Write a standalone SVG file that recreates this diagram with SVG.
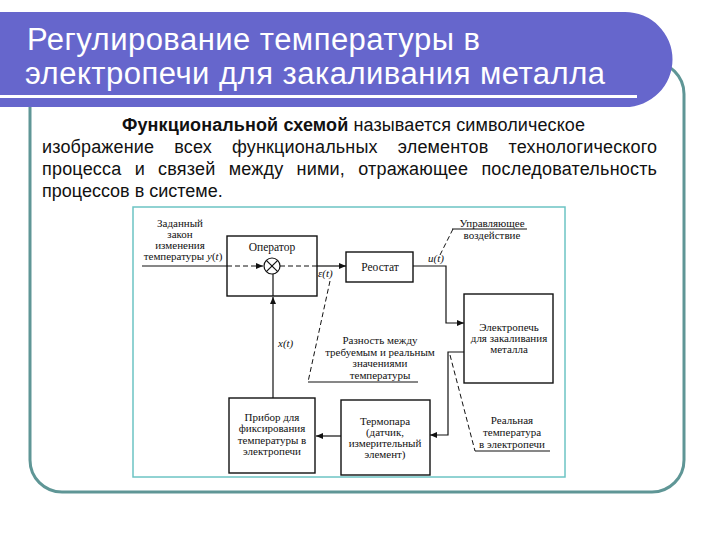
<svg xmlns="http://www.w3.org/2000/svg" width="720" height="540" viewBox="0 0 720 540">
<style>
.title{font-family:"Liberation Sans",Arial,sans-serif;font-size:31px;fill:#fff}
.para{font-family:"Liberation Sans",Arial,sans-serif;font-size:18px;fill:#111}
.d{font-family:"Liberation Serif","Times New Roman",serif;font-size:11px;fill:#111;text-anchor:middle}
.dl{font-family:"Liberation Serif","Times New Roman",serif;font-size:11px;fill:#111}
.big{font-size:11.5px}
.it{font-style:italic}
.box{fill:none;stroke:#111;stroke-width:1.4}
.ln{fill:none;stroke:#111;stroke-width:1.2}
.dash{fill:none;stroke:#111;stroke-width:1;stroke-dasharray:5,3}
</style>
<defs>
<marker id="ah" markerUnits="userSpaceOnUse" markerWidth="8" markerHeight="6" refX="7" refY="3" orient="auto">
<path d="M0,0 L7,3 L0,6 z" fill="#111"/>
</marker>
</defs>
<rect width="720" height="540" fill="#fff"/>
<rect x="30" y="62" width="654" height="430" rx="32" fill="none" stroke="#5f9696" stroke-width="3"/>
<path d="M-10,12 H625 A47.5,47.5 0 0 1 625,107 H-10 Z" fill="#6666cc"/>
<line x1="0" y1="96.5" x2="637" y2="96.5" stroke="#fff" stroke-width="3"/>
<text class="title" x="27" y="50" textLength="453">Регулирование температуры в</text>
<text class="title" x="25" y="84" textLength="580">электропечи для закаливания металла</text>

<g id="paragraph">
<text class="para" x="122" y="131" textLength="463" lengthAdjust="spacing"><tspan font-weight="bold">Функциональной схемой</tspan> называется символическое</text>
<text class="para" x="42" y="153" textLength="615" lengthAdjust="spacing" word-spacing="15">изображение всех функциональных элементов технологического</text>
<text class="para" x="42" y="175" textLength="615" lengthAdjust="spacing" word-spacing="8">процесса и связей между ними, отражающее последовательность</text>
<text class="para" x="42" y="197">процессов в системе.</text>
</g>

<rect x="133" y="207" width="432" height="270" fill="none" stroke="#6cc4c4" stroke-width="1.5"/>

<g id="connectors">
<line class="ln" x1="142" y1="266" x2="227" y2="266"/>
<line class="dash" x1="227" y1="266" x2="263" y2="266" marker-end="url(#ah)"/>
<line class="dash" x1="280" y1="266" x2="317" y2="266"/>
<line class="ln" x1="317" y1="266" x2="346" y2="266" marker-end="url(#ah)"/>
<polyline class="ln" points="413,266 446,266 446,323 464,323" marker-end="url(#ah)"/>
<polyline class="ln" points="464,352 448,352 448,435 430,435" marker-end="url(#ah)"/>
<line class="ln" x1="341" y1="436" x2="316" y2="436" marker-end="url(#ah)"/>
<line class="ln" x1="273" y1="398" x2="273" y2="297" marker-end="url(#ah)"/>
<line class="ln" x1="273" y1="296" x2="273" y2="274"/>
<line class="dash" x1="330" y1="281" x2="308" y2="382"/>
<line class="ln" x1="308" y1="382" x2="418" y2="382"/>
<line class="dash" x1="440" y1="255" x2="453" y2="229"/>
<line class="ln" x1="452" y1="229" x2="527" y2="229"/>
<line class="dash" x1="450" y1="355" x2="475" y2="451"/>
<line class="ln" x1="475" y1="451" x2="550" y2="451"/>
</g>

<g id="input-label">
<text class="d" x="180" y="227">Заданный</text>
<text class="d" x="180" y="238">закон</text>
<text class="d" x="180" y="249">изменения</text>
<text class="d" x="183" y="260">температуры <tspan class="it">y</tspan>(<tspan class="it">t</tspan>)</text>
</g>

<g id="operator">
<rect class="box" x="227" y="236" width="90" height="60"/>
<text class="d big" x="272" y="251">Оператор</text>
<circle cx="272" cy="266" r="8" fill="#fff" stroke="#111" stroke-width="1.2"/>
<line class="ln" x1="266.3" y1="260.3" x2="277.7" y2="271.7"/>
<line class="ln" x1="266.3" y1="271.7" x2="277.7" y2="260.3"/>
</g>

<g id="rheostat">
<rect class="box" x="346" y="252" width="67" height="30"/>
<text class="d big" x="380" y="271">Реостат</text>
</g>

<g id="furnace">
<rect class="box" x="464" y="294" width="89" height="89"/>
<text class="d" x="509" y="331">Электропечь</text>
<text class="d" x="509" y="342">для закаливания</text>
<text class="d" x="509" y="353">металла</text>
</g>

<g id="thermocouple">
<rect class="box" x="341" y="400" width="89" height="75"/>
<text class="d" x="385" y="425">Термопара</text>
<text class="d" x="385" y="436">(датчик,</text>
<text class="d" x="385" y="447">измерительный</text>
<text class="d" x="385" y="458">элемент)</text>
</g>

<g id="device">
<rect class="box" x="229" y="398" width="86" height="75"/>
<text class="d" x="272" y="421">Прибор для</text>
<text class="d" x="272" y="432">фиксирования</text>
<text class="d" x="272" y="444">температуры в</text>
<text class="d" x="272" y="455">электропечи</text>
</g>

<g id="labels">
<text class="dl it" x="318" y="277">ε(t)</text>
<text class="dl it" x="428" y="262">u(t)</text>
<text class="dl it" x="278" y="347">x(t)</text>
<text class="d" x="492" y="227">Управляющее</text>
<text class="d" x="492" y="239">воздействие</text>
<text class="d" x="380" y="344">Разность между</text>
<text class="d" x="380" y="356">требуемым и реальным</text>
<text class="d" x="380" y="367">значениями</text>
<text class="d" x="380" y="379">температуры</text>
<text class="d" x="512" y="424">Реальная</text>
<text class="d" x="512" y="436">температура</text>
<text class="d" x="512" y="448">в электропечи</text>
</g>
</svg>
